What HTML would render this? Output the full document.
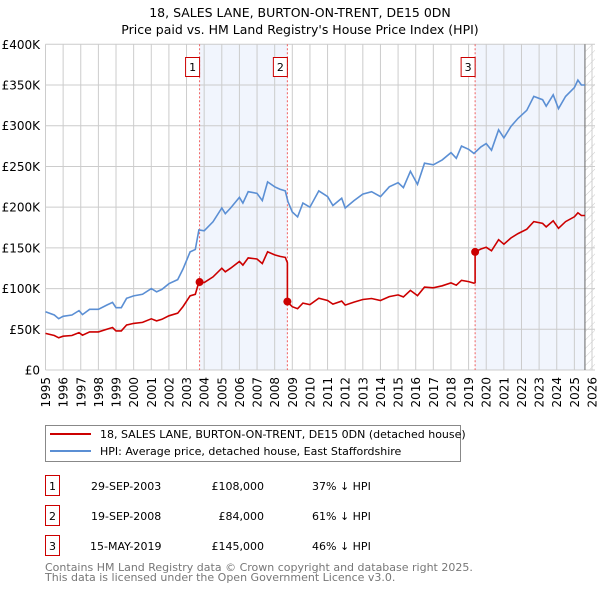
<!DOCTYPE html>
<html><head><meta charset="utf-8">
<style>
body{margin:0;background:#fff;font-family:"DejaVu Sans","Liberation Sans",sans-serif;}
svg text{font-family:"DejaVu Sans","Liberation Sans",sans-serif;}
</style></head>
<body>
<svg id="chart" width="600" height="590" xmlns="http://www.w3.org/2000/svg">
<text x="300" y="17" text-anchor="middle" font-size="12.5">18, SALES LANE, BURTON-ON-TRENT, DE15 0DN</text>
<text x="300" y="34" text-anchor="middle" font-size="12.5">Price paid vs. HM Land Registry's House Price Index (HPI)</text>
<defs><pattern id="hatch" width="6" height="6" patternUnits="userSpaceOnUse" patternTransform="rotate(45)"><line x1="0" y1="0" x2="0" y2="6" stroke="#ccc" stroke-width="1"/></pattern></defs>
<g id="plot"></g>
<g>
<rect x="45.5" y="425.5" width="415" height="36" fill="#fff" stroke="#888"/>
<line x1="50" y1="434" x2="91" y2="434" stroke="#cc0000" stroke-width="2"/>
<text x="100" y="438" font-size="11">18, SALES LANE, BURTON-ON-TRENT, DE15 0DN (detached house)</text>
<line x1="50" y1="451" x2="91" y2="451" stroke="#5b8fd4" stroke-width="2"/>
<text x="100" y="455" font-size="11">HPI: Average price, detached house, East Staffordshire</text>
</g>
<g font-size="11">
<rect x="45.5" y="475.5" width="14" height="20" fill="none" stroke="#cc0000"/>
<text x="52.5" y="490" text-anchor="middle">1</text>
<text x="91" y="490">29-SEP-2003</text>
<text x="264" y="490" text-anchor="end">£108,000</text>
<text x="312" y="490">37% ↓ HPI</text>
<rect x="45.5" y="505.5" width="14" height="20" fill="none" stroke="#cc0000"/>
<text x="52.5" y="520" text-anchor="middle">2</text>
<text x="91" y="520">19-SEP-2008</text>
<text x="264" y="520" text-anchor="end">£84,000</text>
<text x="312" y="520">61% ↓ HPI</text>
<rect x="45.5" y="535.5" width="14" height="20" fill="none" stroke="#cc0000"/>
<text x="52.5" y="550" text-anchor="middle">3</text>
<text x="90" y="550">15-MAY-2019</text>
<text x="264" y="550" text-anchor="end">£145,000</text>
<text x="312" y="550">46% ↓ HPI</text>
</g>
<text x="45" y="571" font-size="11" fill="#777">Contains HM Land Registry data © Crown copyright and database right 2025.</text>
<text x="45" y="581" font-size="11" fill="#777">This data is licensed under the Open Government Licence v3.0.</text>
</svg>
<script>
const hpiYears=[1995,1995.5,1995.75,1996,1996.5,1996.9,1997.1,1997.5,1998,1998.5,1998.8,1999,1999.3,1999.6,2000,2000.5,2001,2001.3,2001.6,2002,2002.5,2002.8,2003.2,2003.5,2003.7,2004,2004.5,2005,2005.2,2005.5,2006,2006.2,2006.5,2007,2007.3,2007.6,2008,2008.3,2008.6,2008.75,2009,2009.3,2009.6,2010,2010.5,2011,2011.3,2011.8,2012,2012.5,2013,2013.5,2014,2014.5,2015,2015.3,2015.7,2016.1,2016.5,2017,2017.5,2018,2018.3,2018.6,2019,2019.3,2019.7,2020,2020.3,2020.7,2021,2021.4,2021.8,2022.3,2022.7,2023.2,2023.4,2023.8,2024.1,2024.5,2025,2025.2,2025.4,2025.6];
const hpiValues=[71.6,67.5,63,66,67.5,73,68,74.5,74.5,80,83,76.5,76.5,88,91,93,100,96,99,106,111,124,145,148,172,171,182,199,192,199,212,205,219,217,208,231,225,222,220,207,194,188,205,200,220,213,202,211,199,208,216,219,213,225,230,224,244,228,254,252,258,267,260,275,271,266,274,278,270,295,285,299,309,319,336,332,324,338,321,336,347,356,350,350];
const saleYears=[2003.74,2008.72,2019.37];
const salePrices=[108,84,145];
const saleLabels=["1","2","3"];
const yTicks=[0,50,100,150,200,250,300,350,400];
const yTickLabels=["£0","£50K","£100K","£150K","£200K","£250K","£300K","£350K","£400K"];
const xTicks=[1995,1996,1997,1998,1999,2000,2001,2002,2003,2004,2005,2006,2007,2008,2009,2010,2011,2012,2013,2014,2015,2016,2017,2018,2019,2020,2021,2022,2023,2024,2025,2026];

const NS="http://www.w3.org/2000/svg";
const X0=45.5,X1=592,Y0=370,Y1=44.3,XMIN=1995,XMAX=2026,YMAX=400;
const xs=v=>X0+(v-XMIN)/(XMAX-XMIN)*(X1-X0);
const ys=v=>Y0-(v/YMAX)*(Y0-Y1);
const g=document.getElementById('plot');
function mk(t,a,p){const e=document.createElementNS(NS,t);for(const k in a)e.setAttribute(k,a[k]);(p||g).appendChild(e);return e;}
function hpiAt(t){for(let i=0;i<hpiYears.length-1;i++){if(t<=hpiYears[i+1]){const f=(t-hpiYears[i])/(hpiYears[i+1]-hpiYears[i]);return hpiValues[i]+f*(hpiValues[i+1]-hpiValues[i]);}}return hpiValues[hpiValues.length-1];}
const dataEnd=hpiYears[hpiYears.length-1];
// plot bg
let e=mk('rect',{x:X0,y:Y1,width:X1-X0+3,height:Y0-Y1,fill:'#fff'});


// shading
const shadeRanges=[[saleYears[0],saleYears[1]],[saleYears[2],dataEnd]];
shadeRanges.forEach((r,i)=>{const s=mk('rect',{x:xs(r[0]),y:Y1,width:xs(r[1])-xs(r[0]),height:Y0-Y1,fill:'#eef3fc',opacity:0.8});

});
e=mk('rect',{x:xs(dataEnd),y:Y1,width:X1+3-xs(dataEnd),height:Y0-Y1,fill:'url(#hatch)'});


// grid
yTicks.forEach((v,i)=>{const l=mk('line',{x1:X0,x2:X1+3,y1:ys(v),y2:ys(v),stroke:'#ccc','stroke-width':1});


const t=mk('text',{x:40,y:ys(v)+4.5,'text-anchor':'end','font-size':12});t.textContent=yTickLabels[i];

});
xTicks.forEach(v=>{const l=mk('line',{x1:xs(v),x2:xs(v),y1:Y1,y2:Y0,stroke:'#ccc','stroke-width':1});


const t=mk('text',{x:0,y:0,'text-anchor':'end','font-size':12,transform:`translate(${xs(v)+4.5},${Y0+7}) rotate(-90)`});t.textContent=v;

});
e=mk('line',{x1:xs(dataEnd),x2:xs(dataEnd),y1:Y1,y2:Y0,stroke:'#666','stroke-width':1});


// sale vlines + labels
saleYears.forEach((s,i)=>{const l=mk('line',{x1:xs(s),x2:xs(s),y1:Y1,y2:Y0,stroke:'#f06060','stroke-width':1,'stroke-dasharray':'2,2'});


const r=mk('rect',{x:xs(s)-21.5+8,y:57.5,width:14,height:19,fill:'#fff',stroke:'#cc0000'});
r.setAttribute('x',xs(s)-8-6);


const t=mk('text',{x:xs(s)-7,y:71,'text-anchor':'middle','font-size':11});t.textContent=saleLabels[i];

});
// HPI line
let d=hpiYears.map((y,i)=>(i?'L':'M')+xs(y).toFixed(1)+','+ys(hpiValues[i]).toFixed(1)).join('');
e=mk('path',{d:d,fill:'none',stroke:'#5b8fd4','stroke-width':1.6});


// property line: indexed by HPI from latest sale
function ratioAt(t){let r=salePrices[0]/hpiAt(saleYears[0]);for(let i=0;i<saleYears.length;i++){if(t>=saleYears[i])r=salePrices[i]/hpiAt(saleYears[i]);}return r;}
const pts=[];
const times=hpiYears.slice();
saleYears.forEach(s=>{times.push(s-0.001);times.push(s);});
times.sort((a,b)=>a-b);
times.forEach(t=>pts.push([t,hpiAt(t)*ratioAt(t)]));
d=pts.map((p,i)=>(i?'L':'M')+xs(p[0]).toFixed(1)+','+ys(p[1]).toFixed(1)).join('');
e=mk('path',{d:d,fill:'none',stroke:'#cc0000','stroke-width':1.6});


saleYears.forEach((s,i)=>{const c=mk('circle',{cx:xs(s),cy:ys(salePrices[i]),r:4,fill:'#cc0000'});

});
</script>
</body></html>
